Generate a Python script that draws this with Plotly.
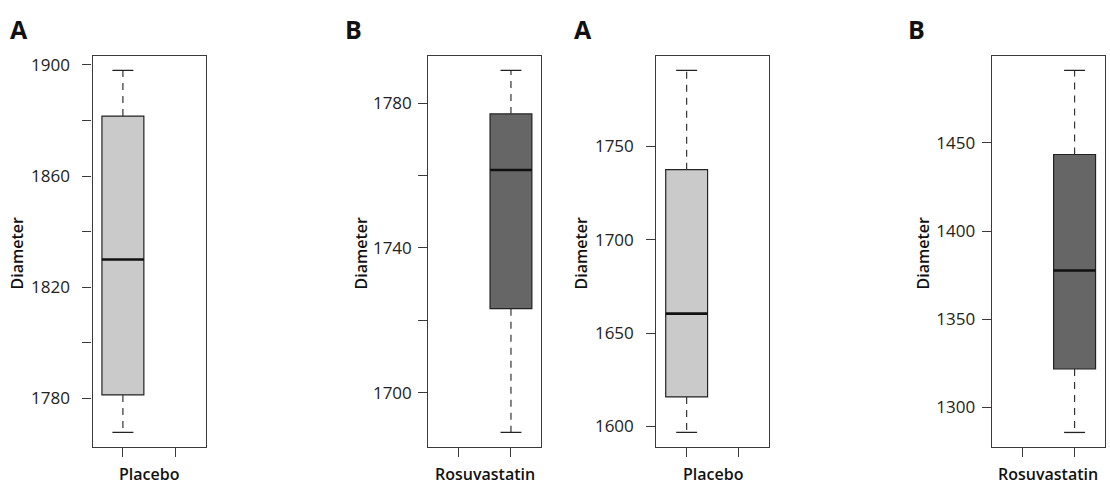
import plotly.graph_objects as go

W, H = 1110, 484

# ---- data ----
panel_letters = ["A", "B", "A", "B"]
panel_groups = ["Placebo", "Rosuvastatin", "Placebo", "Rosuvastatin"]
categories = ["Placebo", "Rosuvastatin"]
lower_whisker = [1767.8, 1689.0, 1596.8, 1285.7]
q1_vals = [1781.3, 1723.2, 1615.8, 1321.7]
median_vals = [1830.0, 1761.5, 1660.4, 1377.6]
q3_vals = [1881.6, 1777.0, 1737.4, 1443.4]
upper_whisker = [1898.0, 1789.0, 1790.5, 1491.1]
y_tickvals = [
    [1780, 1800, 1820, 1840, 1860, 1880, 1900],
    [1700, 1720, 1740, 1760, 1780],
    [1600, 1650, 1700, 1750],
    [1300, 1350, 1400, 1450],
]
y_ticktext = [
    ["1780", "", "1820", "", "1860", "", "1900"],
    ["1700", "", "1740", "", "1780"],
    ["1600", "1650", "1700", "1750"],
    ["1300", "1350", "1400", "1450"],
]
y_title = "Diameter"

# ---- style ----
FONT = "Open Sans"
fills = {"Placebo": "#cacaca", "Rosuvastatin": "#666666"}
frame_col = "#3a3a3a"
px_x = [(92.5, 205.7), (428.3, 541.3), (656.3, 769.3), (991.7, 1105.0)]
px_top, px_bot = 53.3, 446.7
letter_x = [19, 353.5, 582.5, 916.5]
ytitle_x = [17, 361, 581, 923]
label_standoff = [9, 3, 9, 3]

fig = go.Figure()
layout = dict(
    width=W, height=H, margin=dict(l=0, r=0, t=0, b=0),
    paper_bgcolor="white", plot_bgcolor="white", showlegend=False,
    font=dict(family=FONT, size=16, color="#1a1a1a"),
)
annotations = []
box_w = 0.8
staple = 0.2

for i in range(4):
    xa = "x" if i == 0 else f"x{i+1}"
    ya = "y" if i == 0 else f"y{i+1}"
    g = panel_groups[i]
    pos = categories.index(g) + 1

    fig.add_trace(go.Box(
        x=[pos], q1=[q1_vals[i]], median=[median_vals[i]], q3=[q3_vals[i]],
        lowerfence=[q1_vals[i]], upperfence=[q3_vals[i]],
        width=box_w, fillcolor=fills[g],
        line=dict(color="#222222", width=1.2), whiskerwidth=0,
        boxpoints=False, xaxis=xa, yaxis=ya, hoverinfo="skip",
    ))
    fig.add_trace(go.Scatter(
        x=[pos - box_w / 2, pos + box_w / 2], y=[median_vals[i]] * 2,
        mode="lines", line=dict(color="#111111", width=2.6),
        xaxis=xa, yaxis=ya, hoverinfo="skip"))
    for a, b in ((q3_vals[i], upper_whisker[i]), (q1_vals[i], lower_whisker[i])):
        fig.add_trace(go.Scatter(
            x=[pos, pos], y=[a, b], mode="lines",
            line=dict(color="#333333", width=1.2, dash="7px,6px"),
            xaxis=xa, yaxis=ya, hoverinfo="skip"))
    for v in (upper_whisker[i], lower_whisker[i]):
        fig.add_trace(go.Scatter(
            x=[pos - staple, pos + staple], y=[v, v], mode="lines",
            line=dict(color="#222222", width=1.3),
            xaxis=xa, yaxis=ya, hoverinfo="skip"))

    lo, hi = lower_whisker[i], upper_whisker[i]
    pad = 0.04 * (hi - lo)
    l, r = px_x[i]
    layout["xaxis" if i == 0 else f"xaxis{i+1}"] = dict(
        domain=[l / W, r / W], anchor=ya, range=[0.42, 2.58],
        tickvals=[1, 2], ticktext=["", ""],
        ticks="outside", ticklen=9, tickcolor=frame_col, tickwidth=1.2,
        showline=True, linecolor=frame_col, linewidth=1.2, mirror=True,
        showgrid=False, zeroline=False, fixedrange=True,
    )
    layout["yaxis" if i == 0 else f"yaxis{i+1}"] = dict(
        domain=[(H - px_bot) / H, (H - px_top) / H], anchor=xa,
        range=[lo - pad, hi + pad],
        tickvals=y_tickvals[i], ticktext=y_ticktext[i],
        ticks="outside", ticklen=9, tickcolor=frame_col, tickwidth=1.2,
        showline=True, linecolor=frame_col, linewidth=1.2, mirror=True,
        showgrid=False, zeroline=False, ticklabelstandoff=label_standoff[i],
        tickfont=dict(family=FONT, size=17, color="#222222"),
        fixedrange=True,
    )
    annotations.append(dict(
        text=panel_letters[i], x=letter_x[i] / W, y=1 - 26 / H,
        xref="paper", yref="paper", showarrow=False,
        xanchor="center", yanchor="middle",
        font=dict(family=FONT, size=25, color="#111111", weight=700)))
    annotations.append(dict(
        text=y_title, x=ytitle_x[i] / W, y=1 - 252 / H,
        xref="paper", yref="paper", showarrow=False, textangle=-90,
        xanchor="center", yanchor="middle",
        font=dict(family=FONT, size=16, color="#111111", weight=600)))
    annotations.append(dict(
        text=g, x=(l + r) / 2 / W, y=1 - 474 / H,
        xref="paper", yref="paper", showarrow=False,
        xanchor="center", yanchor="middle",
        font=dict(family=FONT, size=16, color="#111111", weight=600)))

layout["annotations"] = annotations
fig.update_layout(**layout)
fig.write_html("out.html")
